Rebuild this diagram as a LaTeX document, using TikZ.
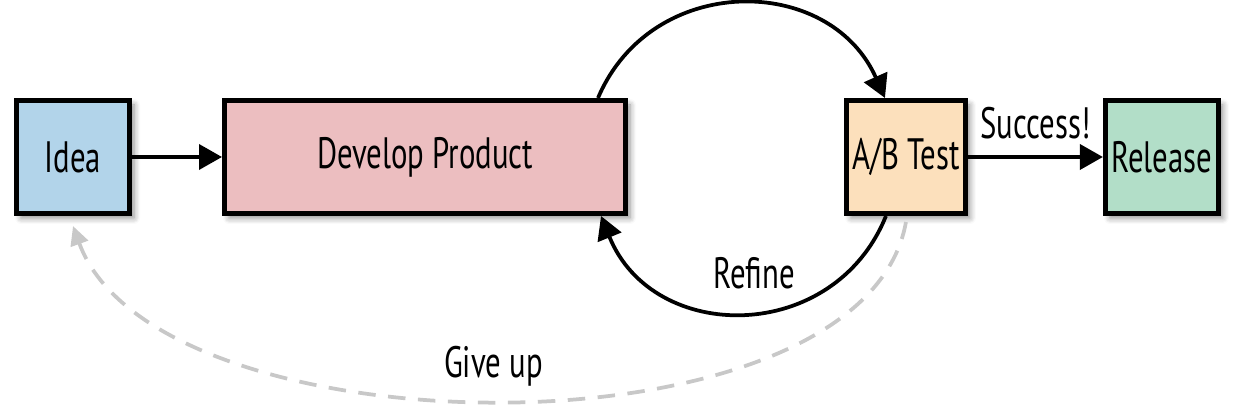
\documentclass[tikz,border=0pt]{standalone}
\usepackage{fontspec}
\setmainfont{PT Sans}[FakeStretch=0.7]
\usetikzlibrary{positioning, calc, arrows.meta, shadows.blur}
\definecolor{ideablue}{RGB}{178,212,234}
\definecolor{devpink}{RGB}{236,190,192}
\definecolor{testpeach}{RGB}{252,224,188}
\definecolor{relgreen}{RGB}{178,222,200}
\definecolor{giveupgray}{RGB}{200,200,200}

\begin{document}
\begin{tikzpicture}[
  >={Triangle[length=4.6mm,width=5mm]},
  every node/.style={font=\fontsize{25}{29}\selectfont},
  box/.style={draw,line width=0.1cm,minimum width=2.26cm,minimum height=2.26cm,align=center,
    blur shadow={shadow xshift=0.9mm,shadow yshift=-0.9mm,shadow blur steps=6,shadow blur radius=1.2mm,shadow opacity=45}},
  flow/.style={->,line width=0.075cm},
  back/.style={->,line width=0.075cm,giveupgray,dash pattern=on 3.5mm off 2.5mm,
    >={Triangle[length=3.8mm,width=3.6mm]}}
]
\useasboundingbox (0,0) rectangle (25.04,8.12);

% Boxes
\node[box,fill=ideablue] (idea) at (1.46,4.98) {Idea};
\node[box,fill=devpink,minimum width=8.02cm,right=1.8cm of idea] (dev) {Develop Product};
\node[box,fill=testpeach,right=4.32cm of dev] (ab) {A/B Test};
\node[box,fill=relgreen,right=2.7cm of ab] (rel) {Release};

% Arrows
\draw[flow] (idea) -- (dev);
\draw[flow] (ab) -- (rel) node[midway,above=0.2cm] (succ) {Success!};

% Loop between develop and test
\draw[flow] ($(dev.north east)+(-0.6,0)$) to[out=67,in=114,looseness=1.22] ($(ab.north)+(-0.42,0)$);
\draw[flow] ($(ab.south)+(-0.4,0)$) to[out=-112,in=-68,looseness=1.25]
  node[pos=0.47,above=0.3cm] (refine) {Refine} ($(dev.south east)+(-0.54,0)$);

% Give up
\draw[back] ($(ab.south)+(0,-0.12)$) to[out=-100,in=-70,looseness=0.75]
  node[pos=0.51,above=0.12cm,text=black] (giveup) {Give up} ($(idea.south)+(0,-0.2)$);

\end{tikzpicture}
\end{document}
